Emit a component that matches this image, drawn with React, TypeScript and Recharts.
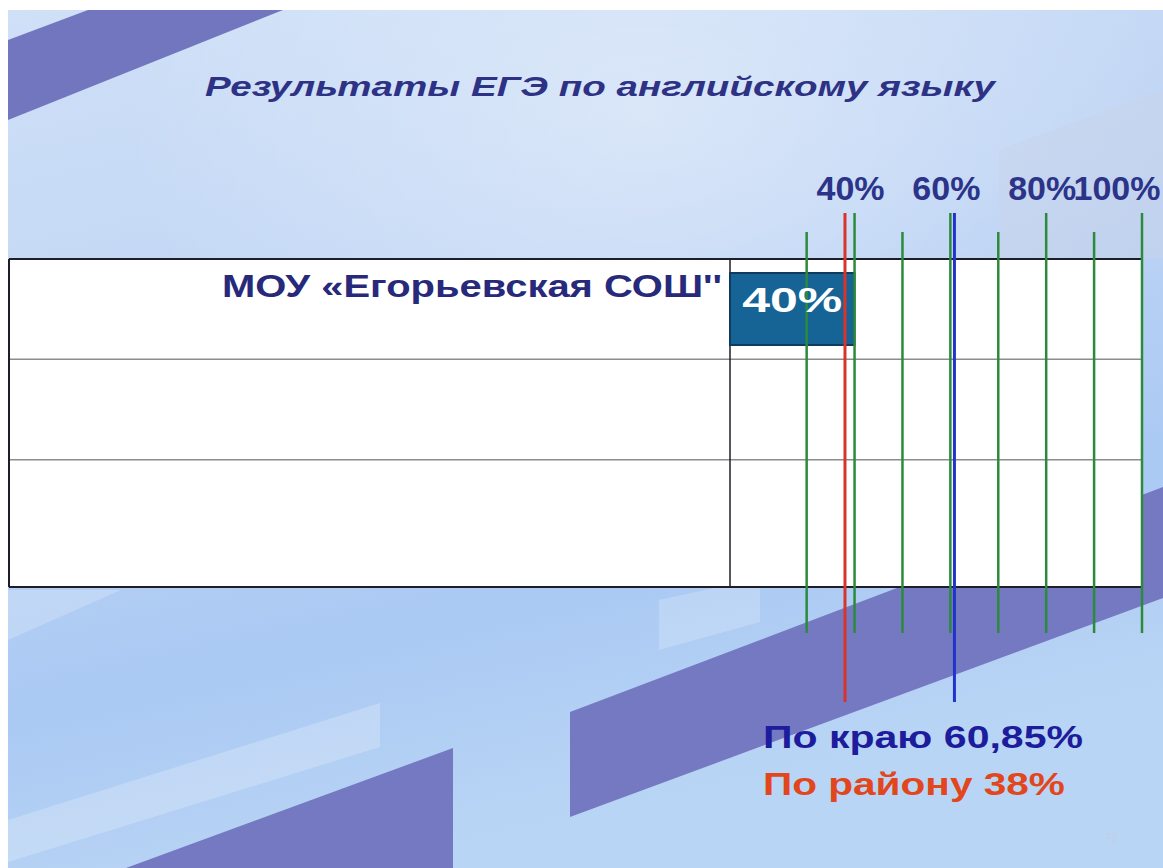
import React from 'react';
import { BarChart, Bar, XAxis, YAxis, ReferenceLine, LabelList } from 'recharts';

// rows of the slide table (only the first one is filled in)
const schools = ["МОУ «Егорьевская СОШ''", '', ''];
const schoolResults: (number | null)[] = [40, null, null];

// scale printed above the table and the green guide lines
const scaleTicks = [40, 60, 80, 100];
const gridValues = [30, 40, 50, 60, 70, 80, 90, 100];

// averages shown as the blue / red lines
const regionAverage = 60.85;
const districtAverage = 38;

const W = 1163;
const H = 868;
const FONT = '"Liberation Sans", Arial, sans-serif';

// plot area = right column of the table
const margin = { top: 199, right: 21, bottom: 308, left: 30 };
const yAxisWidth = 700;
const xAxisHeight = 60;
const plotLeft = margin.left + yAxisWidth;
const plotTop = margin.top + xAxisHeight;
const plotBottom = H - margin.bottom;
const plotRight = W - margin.right;
const tableLeft = 9;
const tableBottom = 587;

const chartData = schools.map((name, i) => ({ name, value: schoolResults[i] }));

const fmt = (v: number) => String(v).replace('.', ',');

// vertical line that runs past the plot area, like on the slide
const vline = (color: string, width: number, up: number, down: number) => (p: any) => {
  const top = Math.min(p.y1, p.y2) - up;
  const bottom = Math.max(p.y1, p.y2) + down;
  return <line x1={p.x1} x2={p.x2} y1={top} y2={bottom} stroke={color} strokeWidth={width} />;
};

// labels are squeezed a bit to the left so "100%" stays on the page
const ScaleTick = (p: any) => (
  <text
    x={Math.min(p.x - 4, W - 46)}
    y={p.y - 59}
    textAnchor="middle"
    fill="#2b3488"
    fontSize={34}
    fontWeight="bold"
    fontFamily={FONT}
  >
    {p.payload.value}%
  </text>
);

const SchoolTick = (p: any) =>
  p.payload.value ? (
    <text
      x={p.x - 8}
      y={p.y - 12}
      textAnchor="end"
      fill="#27297a"
      fontSize={31}
      fontWeight="bold"
      fontFamily={FONT}
      textLength={500}
      lengthAdjust="spacingAndGlyphs"
    >
      {p.payload.value}
    </text>
  ) : null;

const BarValue = (p: any) => {
  if (p.value == null) return null;
  const vb = p.viewBox || p;
  return (
    <text
      x={vb.x + vb.width / 2}
      y={vb.y + 39}
      textAnchor="middle"
      fill="#ffffff"
      fontSize={35}
      fontWeight="bold"
      fontFamily={FONT}
      textLength={100}
      lengthAdjust="spacingAndGlyphs"
    >
      {p.value}%
    </text>
  );
};

function SlideBackground() {
  const rowH = (plotBottom - plotTop) / schools.length;
  return (
    <svg width={W} height={H} style={{ position: 'absolute', left: 0, top: 0 }}>
      <defs>
        <linearGradient id="bg" x1="0" y1="0" x2="0.3" y2="1">
          <stop offset="0" stopColor="#cfe0f7" />
          <stop offset="0.4" stopColor="#c1d6f5" />
          <stop offset="0.75" stopColor="#aac9f3" />
          <stop offset="1" stopColor="#b9d5f5" />
        </linearGradient>
        <radialGradient id="glow" cx="0.55" cy="0.12" r="0.45">
          <stop offset="0" stopColor="#ffffff" stopOpacity="0.35" />
          <stop offset="1" stopColor="#ffffff" stopOpacity="0" />
        </radialGradient>
      </defs>
      <rect x={0} y={0} width={W} height={H} fill="#ffffff" />
      <rect x={8} y={10} width={W - 8} height={H - 10} fill="url(#bg)" />
      <rect x={8} y={10} width={W - 8} height={H - 10} fill="url(#glow)" />
      <polygon points="999,150 1163,90 1163,259 999,259" fill="#c9d3ea" opacity={0.5} />
      <polygon points="88,10 283,10 8,120 8,40" fill="#7276bf" />
      <polygon points="570,712 1163,487 1163,598 570,817" fill="#7579c2" />
      <polygon points="126,868 453,748 453,868" fill="#7579c2" />
      <polygon points="8,820 380,703 380,747 8,862" fill="#ffffff" opacity={0.22} />
      <polygon points="659,600 760,578 760,622 659,650" fill="#ffffff" opacity={0.2} />
      <polygon points="8,590 121,590 8,640" fill="#ffffff" opacity={0.2} />

      <text
        x={600}
        y={96}
        textAnchor="middle"
        fill="#2e3285"
        fontSize={28}
        fontWeight="bold"
        fontStyle="italic"
        fontFamily={FONT}
        textLength={790}
        lengthAdjust="spacingAndGlyphs"
      >
        Результаты ЕГЭ по английскому языку
      </text>

      {/* table */}
      <rect x={tableLeft} y={plotTop} width={plotRight - tableLeft} height={tableBottom - plotTop} fill="#ffffff" />
      {[1, 2].map((i) => (
        <line key={i} x1={tableLeft} x2={plotRight} y1={plotTop + i * rowH} y2={plotTop + i * rowH} stroke="#8c8c8c" strokeWidth={1.5} />
      ))}
      <line x1={tableLeft} x2={plotRight} y1={plotTop} y2={plotTop} stroke="#1e1e28" strokeWidth={2} />
      <line x1={tableLeft} x2={plotRight} y1={tableBottom} y2={tableBottom} stroke="#1e1e28" strokeWidth={2} />
      <line x1={tableLeft} x2={tableLeft} y1={plotTop} y2={tableBottom} stroke="#1e1e28" strokeWidth={2} />
      <line x1={plotLeft} x2={plotLeft} y1={plotTop} y2={tableBottom} stroke="#1e1e28" strokeWidth={1.5} />

      <text x={763} y={748} fill="#1c1c9c" fontSize={31} fontWeight="bold" fontFamily={FONT} textLength={320} lengthAdjust="spacingAndGlyphs">
        По краю {fmt(regionAverage)}%
      </text>
      <text x={763} y={795} fill="#e2461c" fontSize={31} fontWeight="bold" fontFamily={FONT} textLength={302} lengthAdjust="spacingAndGlyphs">
        По району {fmt(districtAverage)}%
      </text>
      <text x={1105} y={842} fill="#c4cde0" fontSize={12} fontFamily={FONT}>72</text>
    </svg>
  );
}

export default function App() {
  return (
    <div style={{ position: 'fixed', left: 0, top: 0, width: W, height: H, overflow: 'hidden', background: '#fff' }}>
      <SlideBackground />
      <div style={{ position: 'absolute', left: 0, top: 0 }}>
        <BarChart width={W} height={H} data={chartData} layout="vertical" margin={margin}>
          <XAxis
            type="number"
            orientation="top"
            domain={[14, 100]}
            ticks={scaleTicks}
            interval={0}
            height={xAxisHeight}
            axisLine={false}
            tickLine={false}
            tickSize={0}
            tickMargin={0}
            tick={<ScaleTick />}
          />
          <YAxis
            type="category"
            dataKey="name"
            width={yAxisWidth}
            interval={0}
            axisLine={false}
            tickLine={false}
            tickSize={0}
            tickMargin={0}
            tick={<SchoolTick />}
          />
          {gridValues.map((v) => (
            <ReferenceLine
              key={v}
              x={v}
              shape={vline('#2c8a3c', 2.5, scaleTicks.includes(v) ? 46 : 27, 73)}
            />
          ))}
          <Bar dataKey="value" barSize={72} fill="#166496" stroke="#0f3c5e" strokeWidth={2} isAnimationActive={false}>
            <LabelList dataKey="value" content={<BarValue />} />
          </Bar>
          <ReferenceLine x={districtAverage} shape={vline('#d9342b', 3, 46, 142)} />
          <ReferenceLine x={regionAverage} shape={vline('#2233cc', 3, 46, 142)} />
        </BarChart>
      </div>
    </div>
  );
}
